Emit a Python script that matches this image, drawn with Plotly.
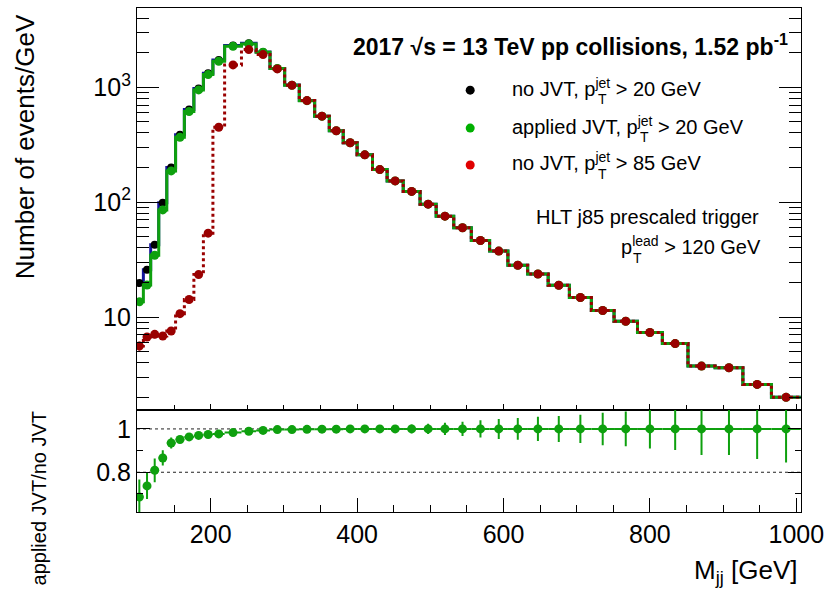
import plotly.graph_objects as go

# ---------------- data ----------------
bin_edges = [97, 108, 118, 129, 140, 152, 164, 177, 190, 203, 219, 242, 262, 281, 301,
             321, 342, 362, 381, 400, 421, 441, 463, 486, 508, 532, 556, 581, 606, 633,
             661, 690, 720, 751, 783, 817, 852, 889, 927, 966, 1006]

# no JVT, pT(jet) > 20 GeV  [events/GeV]
no_jvt = [19.8, 25.8, 42.6, 98.8, 200, 386, 639, 978, 1324, 1723, 2312, 2412, 2030, 1460,
          1045, 766, 560, 418, 329, 258, 192, 153, 124, 96.1, 75.5, 59.9, 46.4, 37.5,
          28.2, 23.7, 18.9, 14.8, 11.4, 9.18, 7.33, 5.87, 3.74, 3.62, 2.59, 2.00]

# applied JVT / no JVT
ratio = [0.686, 0.737, 0.809, 0.866, 0.935, 0.951, 0.963, 0.970, 0.974, 0.977, 0.983,
         0.989, 0.993, 0.997, 0.997, 0.998, 0.999, 0.999, 1.0, 1.0, 1.0, 1.0, 1.0, 1.0,
         1.0, 1.0, 1.0, 1.0, 1.0, 1.0, 1.0, 1.0, 1.0, 1.0, 1.0, 1.0, 1.0, 1.0, 1.0, 1.0]
ratio_err = [0.08, 0.06, 0.055, 0.035, 0.025, 0.012, 0.01, 0.008, 0.008, 0.008, 0.008,
             0.008, 0.008, 0.008, 0.008, 0.009, 0.01, 0.011, 0.012, 0.013, 0.015, 0.017,
             0.02, 0.024, 0.028, 0.033, 0.04, 0.046, 0.05, 0.056, 0.06, 0.065, 0.075,
             0.08, 0.09, 0.097, 0.12, 0.12, 0.139, 0.155]

# no JVT, pT(jet) > 85 GeV  [events/GeV]
pt85 = [5.6, 6.7, 7.07, 6.84, 7.56, 10.7, 14.2, 23.4, 53.7, 449, 1566, 2128, 1925, 1445,
        1040, 766, 560, 418, 329, 258, 192, 153, 124, 96.1, 75.5, 59.9, 46.4, 37.5, 28.2,
        23.7, 18.9, 14.8, 11.4, 9.18, 7.33, 5.87, 3.74, 3.62, 2.59, 2.00]
pt85_err = [0.5, 0.5, 0.55, 0.5, 0.55, 0.7, 0.8, 1.2, 2.0] + [0] * 31

x_range = [99.3, 1006.4]
ylog_range = [0.195, 3.690]
ratio_range = [0.6166, 1.0896]

# ---------------- derived ----------------
centers = [(a + b) / 2 for a, b in zip(bin_edges[:-1], bin_edges[1:])]
half_w = [(b - a) / 2 for a, b in zip(bin_edges[:-1], bin_edges[1:])]
applied = [n * r for n, r in zip(no_jvt, ratio)]

GREEN = "#0ea00e"
RED = "#9a0000"
BLUE = "#14149c"
FONT = "Liberation Sans, Arial, Helvetica, sans-serif"

W, H = 831, 592
ML, MR, MT, MB = 137, 27, 7, 80
PW, PH = W - ML - MR, H - MT - MB


def px(x):
    return (x - ML) / PW


def py(y):
    return (H - MB - y) / PH


split = py(409.3)


def step(vals):
    return bin_edges, list(vals) + [vals[-1]]


fig = go.Figure()

# no JVT histogram (blue line) + black markers
sx, sy = step(no_jvt)
fig.add_trace(go.Scatter(x=sx, y=sy, mode="lines", line=dict(color=BLUE, width=3, shape="hv"),
                         xaxis="x", yaxis="y", showlegend=False, hoverinfo="skip"))
fig.add_trace(go.Scatter(x=centers, y=no_jvt, mode="markers",
                         marker=dict(color="black", size=8), xaxis="x", yaxis="y",
                         showlegend=False))
# applied JVT
sx, sy = step(applied)
fig.add_trace(go.Scatter(x=sx, y=sy, mode="lines", line=dict(color=GREEN, width=3, shape="hv"),
                         xaxis="x", yaxis="y", showlegend=False, hoverinfo="skip"))
fig.add_trace(go.Scatter(x=centers, y=applied, mode="markers",
                         marker=dict(color=GREEN, size=9), xaxis="x", yaxis="y",
                         showlegend=False))
# pT > 85
sx, sy = step(pt85)
fig.add_trace(go.Scatter(x=sx, y=sy, mode="lines",
                         line=dict(color=RED, width=3, shape="hv", dash="dot"),
                         xaxis="x", yaxis="y", showlegend=False, hoverinfo="skip"))
fig.add_trace(go.Scatter(x=centers, y=pt85, mode="markers",
                         marker=dict(color=RED, size=9),
                         error_y=dict(type="data", array=pt85_err, color=RED, thickness=2, width=0),
                         xaxis="x", yaxis="y", showlegend=False))

# ratio panel
fig.add_trace(go.Scatter(x=centers, y=ratio, mode="markers",
                         marker=dict(color=GREEN, size=9),
                         error_y=dict(type="data", array=ratio_err, color=GREEN, thickness=2, width=0),
                         error_x=dict(type="data", array=half_w, color=GREEN, thickness=2, width=0),
                         xaxis="x2", yaxis="y2", showlegend=False))

tickfont = dict(family=FONT, size=25, color="black")

common_x = dict(range=x_range, showgrid=False, zeroline=False, ticks="inside",
                tickmode="linear", tick0=0, dtick=200, tickcolor="black", tickwidth=1)

fig.update_layout(
    width=W, height=H, margin=dict(l=ML, r=MR, t=MT, b=MB),
    paper_bgcolor="white", plot_bgcolor="white",
    font=dict(family=FONT, color="black"),
    xaxis=dict(**common_x, domain=[0, 1], anchor="y", side="bottom", ticklen=5,
               minor=dict(ticks="inside", dtick=50, tick0=0, ticklen=4, tickcolor="black"),
               showticklabels=False, showline=True, linecolor="black", linewidth=1.2, mirror=True),
    xaxis3=dict(**common_x, overlaying="x", anchor="y", side="top", ticklen=6,
                minor=dict(ticks="inside", dtick=50, tick0=0, ticklen=6, tickcolor="black"),
                showticklabels=False, showline=False),
    xaxis2=dict(**common_x, domain=[0, 1], anchor="y2", side="bottom", ticklen=14,
                minor=dict(ticks="inside", dtick=50, tick0=0, ticklen=7, tickcolor="black"),
                showticklabels=True, tickfont=tickfont,
                showline=True, linecolor="black", linewidth=1.2, mirror=True),
    xaxis4=dict(**common_x, overlaying="x2", anchor="y2", side="top", ticklen=6,
                minor=dict(ticks="inside", dtick=50, tick0=0, ticklen=6, tickcolor="black"),
                showticklabels=False, showline=False),
    yaxis=dict(type="log", range=ylog_range, domain=[split, 1], anchor="x",
               tickmode="array", tickvals=[10, 100, 1000],
               ticktext=["10", "10<sup>2</sup>", "10<sup>3</sup>"],
               ticks="inside", ticklen=22, tickcolor="black", tickwidth=1,
               minor=dict(ticks="inside", tickmode="array",
                          tickvals=[2, 3, 4, 5, 6, 7, 8, 9, 20, 30, 40, 50, 60, 70, 80, 90,
                                    200, 300, 400, 500, 600, 700, 800, 900, 2000, 3000, 4000],
                          ticklen=12, tickcolor="black"),
               tickfont=tickfont, showgrid=False, zeroline=False,
               showline=True, linecolor="black", linewidth=1.2, mirror="allticks"),
    yaxis2=dict(range=ratio_range, domain=[0, split], anchor="x2",
                tickmode="linear", tick0=0, dtick=0.2, ticks="inside", ticklen=13,
                tickcolor="black", tickwidth=1,
                minor=dict(ticks="inside", dtick=0.1, tick0=0, ticklen=6, tickcolor="black"),
                tickfont=tickfont, showgrid=False, zeroline=False,
                showline=True, linecolor="black", linewidth=1.2, mirror="allticks"),
)

# dotted reference lines in the ratio panel
for yv in (1.0, 0.8):
    fig.add_shape(type="line", xref="x2 domain", yref="y2", x0=0, x1=1, y0=yv, y1=yv,
                  line=dict(color="#222222", width=1, dash="dot"), layer="below")

ann = []
# axis titles
ann.append(dict(text="Number of events/GeV", x=px(24), y=py(146), textangle=-90,
                font=dict(size=26)))
ann.append(dict(text="applied JVT/no JVT", x=px(39), y=py(498), textangle=-90,
                font=dict(size=20)))
ann.append(dict(text="M<sub>jj</sub> [GeV]", x=px(802), y=py(572), xanchor="right",
                font=dict(size=26)))
# header
ann.append(dict(text="<b>2017 √s = 13 TeV pp collisions, 1.52 pb<sup>-1</sup></b>",
                x=px(352), y=py(44), xanchor="left", font=dict(size=23)))
# legend
legend_rows = [("no JVT, p", "> 20 GeV", "black", 89.3, 597.6),
               ("applied JVT, p", "> 20 GeV", "#00b000", 127.3, 639.8),
               ("no JVT, p", "> 85 GeV", "#e00000", 164.3, 597.6)]
for lead, tail, col, yc, xjet in legend_rows:
    ann.append(dict(text=lead + "<sup>jet</sup> " + tail, x=px(512), y=py(yc - 3),
                    xanchor="left", font=dict(size=20)))
    ann.append(dict(text="T", x=px(xjet), y=py(yc + 9), xanchor="left", font=dict(size=14)))
    fig.add_shape(type="circle", xref="paper", yref="paper", xsizemode="pixel",
                  ysizemode="pixel", xanchor=px(471.7), yanchor=py(yc),
                  x0=-4.5, x1=4.5, y0=-4.5, y1=4.5, fillcolor=col, line=dict(width=0))
# trigger text
ann.append(dict(text="HLT j85 prescaled trigger", x=px(764), y=py(216), xanchor="right",
                font=dict(size=20)))
ann.append(dict(text="p<sup>lead</sup> > 120 GeV", x=px(621), y=py(245), xanchor="left",
                font=dict(size=20)))
ann.append(dict(text="T", x=px(633), y=py(257), xanchor="left", font=dict(size=14)))

for a in ann:
    a.setdefault("xanchor", "center")
    a.setdefault("yanchor", "middle")
    a.update(xref="paper", yref="paper", showarrow=False)
    a["font"] = dict(family=FONT, color="black", **a["font"])
fig.update_layout(annotations=ann)

fig.write_html("out.html", config={"displayModeBar": False},
               post_script="document.body.style.margin='0';document.body.style.padding='0';")
